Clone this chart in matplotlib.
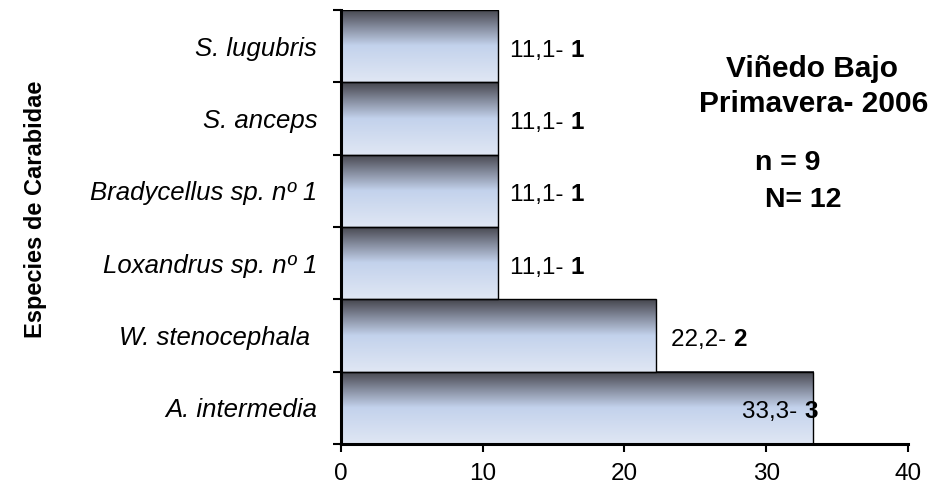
import numpy as np
import matplotlib.pyplot as plt
from matplotlib.colors import LinearSegmentedColormap

species = ["A. intermedia", "W. stenocephala ", "Loxandrus sp. nº 1",
           "Bradycellus sp. nº 1", "S. anceps", "S. lugubris"]
percent = [33.3, 22.2, 11.1, 11.1, 11.1, 11.1]
counts = [3, 2, 1, 1, 1, 1]
pct_text = ["33,3", "22,2", "11,1", "11,1", "11,1", "11,1"]
xticks = [0, 10, 20, 30, 40]

plt.rcParams['font.family'] = ['Liberation Sans', 'DejaVu Sans']

fig = plt.figure(figsize=(9.38, 4.88), dpi=100)
ax = fig.add_axes([0.3635, 0.0902, 0.6045, 0.8893])

# vertical gradient: dark steel at the top of each bar fading to pale blue
grad_cmap = LinearSegmentedColormap.from_list(
    "bar_grad",
    [(0.0, "#e0e7f4"), (0.5, "#c3d2ec"), (0.72, "#8d95a8"), (1.0, "#45454d")])
grad = np.linspace(0, 1, 256).reshape(-1, 1)

y = np.arange(len(species))
for yi, val in zip(y, percent):
    ax.imshow(grad, cmap=grad_cmap, aspect='auto', origin='lower',
              extent=(0, val, yi - 0.5, yi + 0.5), zorder=1)
ax.barh(y, percent, height=1.0, facecolor='none', edgecolor='black',
        linewidth=1.0, zorder=2)

# value labels: percentage and bold count
lab_fs = 17.5
for yi, val, pt, c in zip(y, percent, pct_text, counts):
    if val > 30:
        b = ax.annotate(str(c), xy=(val, yi), xytext=(3.5, -7.5),
                        textcoords='offset points', ha='right', va='baseline',
                        fontsize=lab_fs, fontweight='bold', zorder=3)
        ax.annotate(pt + "- ", xy=(0, 0), xycoords=b, xytext=(0, 0),
                    textcoords='offset points', ha='right', va='bottom',
                    fontsize=lab_fs, zorder=3)
    else:
        off = 8.4 if val < 20 else 11
        t = ax.annotate(pt + "- ", xy=(val, yi), xytext=(off, -7.5),
                        textcoords='offset points', ha='left', va='baseline',
                        fontsize=lab_fs, zorder=3)
        ax.annotate(str(c), xy=(1, 0), xycoords=t, xytext=(0, 0),
                    textcoords='offset points', ha='left', va='bottom',
                    fontsize=lab_fs, fontweight='bold', zorder=3)

ax.set_xlim(0, 40)
ax.set_ylim(-0.5, len(species) - 0.5)
ax.set_xticks(xticks)
ax.set_xticklabels([str(v) for v in xticks], fontsize=17.5)

# category labels centred on bars, tick marks on the band boundaries
ax.set_yticks(y)
ax.set_yticklabels(species, fontsize=18.5, style='italic')
ax.tick_params(axis='y', which='major', length=0, pad=17)
ax.set_yticks(np.arange(-0.5, len(species), 1.0), minor=True)
ax.tick_params(axis='y', which='minor', length=6, width=1.5, direction='out')
ax.tick_params(axis='x', length=6, width=1.5, direction='out', pad=8)

for side in ('top', 'right'):
    ax.spines[side].set_visible(False)
ax.spines['left'].set_linewidth(2.2)
ax.spines['bottom'].set_linewidth(2.2)

ax.set_ylabel("Especies de Carabidae", fontsize=17, fontweight='bold')
ax.yaxis.set_label_coords(-0.519, 0.5415)

fig.text(0.866, 0.842, "Viñedo Bajo", ha='center', va='baseline',
         fontsize=21.5, fontweight='bold')
fig.text(0.868, 0.7705, "Primavera- 2006", ha='center', va='baseline',
         fontsize=21.5, fontweight='bold')
fig.text(0.840, 0.6516, "n = 9", ha='center', va='baseline',
         fontsize=20.5, fontweight='bold')
fig.text(0.856, 0.5758, "N= 12", ha='center', va='baseline',
         fontsize=20.5, fontweight='bold')

fig.savefig("out.png", dpi=100)
